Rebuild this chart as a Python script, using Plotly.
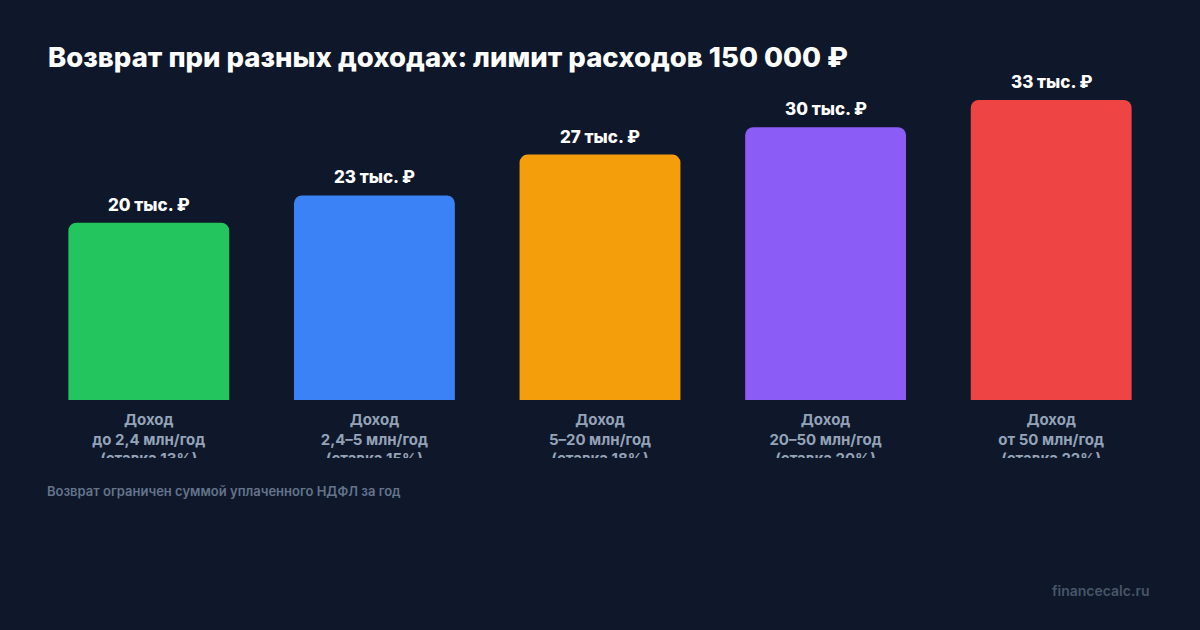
import plotly.graph_objects as go

# data
categories = ["до 2,4", "2,4–5", "5–20", "20–50", "от 50"]
refund = [19500, 22500, 27000, 30000, 33000]
bar_labels = ["20 тыс. ₽", "23 тыс. ₽", "27 тыс. ₽", "30 тыс. ₽", "33 тыс. ₽"]
income_labels = [
    "Доход<br>до 2,4 млн/год<br>(ставка 13%)",
    "Доход<br>2,4–5 млн/год<br>(ставка 15%)",
    "Доход<br>5–20 млн/год<br>(ставка 18%)",
    "Доход<br>20–50 млн/год<br>(ставка 20%)",
    "Доход<br>от 50 млн/год<br>(ставка 22%)",
]
colors = ["#22c55e", "#3b82f6", "#f59e0b", "#8b5cf6", "#ef4444"]

BG = "#0f172a"
FONT = "Inter, Roboto, sans-serif"

H = 630
top, bottom = 100, 100
ph = H - top - bottom  # plot height in px
clip = 458  # where the income labels get cut off

fig = go.Figure()

fig.add_trace(go.Bar(
    x=categories,
    y=refund,
    marker=dict(color=colors, line_width=0, cornerradius=8),
    hoverinfo="skip",
    xaxis="x",
    yaxis="y",
))

# category labels in a small clipped subplot under the bars
fig.add_trace(go.Scatter(
    x=categories,
    y=[14] * len(categories),
    text=income_labels,
    mode="text",
    textposition="bottom center",
    textfont=dict(family=FONT, size=15, color="#94a3b8", weight=700),
    cliponaxis=True,
    hoverinfo="skip",
    xaxis="x2",
    yaxis="y2",
))

# value labels above bars
for c, v, t in zip(categories, refund, bar_labels):
    fig.add_annotation(
        x=c, y=v, text=t, showarrow=False,
        xref="x", yref="y", yanchor="bottom", yshift=6,
        font=dict(family=FONT, size=17, color="#ffffff", weight=800),
    )

fig.add_annotation(
    x=48 / 1200, y=(H - 491 - bottom) / ph, xref="paper", yref="paper",
    xanchor="left", yanchor="middle", showarrow=False,
    text="Возврат ограничен суммой уплаченного НДФЛ за год",
    font=dict(family=FONT, size=13, color="#64748b", weight=600),
    xshift=-36,
)
fig.add_annotation(
    x=1, y=(H - 590 - bottom) / ph, xref="paper", yref="paper",
    xanchor="right", yanchor="middle", showarrow=False,
    text="financecalc.ru",
    font=dict(family=FONT, size=14, color="#475569", weight=600),
    xshift=-12,
)

fig.update_layout(
    width=1200,
    height=H,
    paper_bgcolor=BG,
    plot_bgcolor=BG,
    showlegend=False,
    margin=dict(l=36, r=36, t=top, b=bottom),
    bargap=0.287,
    title=dict(
        text="Возврат при разных доходах: лимит расходов 150 000 ₽",
        x=48 / 1200, xanchor="left", y=1 - 57 / H, yanchor="middle",
        font=dict(family=FONT, size=27.5, color="#ffffff", weight=800),
    ),
    xaxis=dict(visible=False, showgrid=False, zeroline=False),
    yaxis=dict(visible=False, range=[0, 33000], domain=[(530 - 400) / ph, 1],
               showgrid=False, zeroline=False),
    xaxis2=dict(visible=False, matches="x", anchor="y2"),
    yaxis2=dict(visible=False, range=[clip - 400, 0],
                domain=[(530 - clip) / ph, (530 - 400) / ph],
                showgrid=False, zeroline=False),
)

fig.write_html("out.html", config={"displayModeBar": False},
               post_script="document.body.style.margin='0';")
